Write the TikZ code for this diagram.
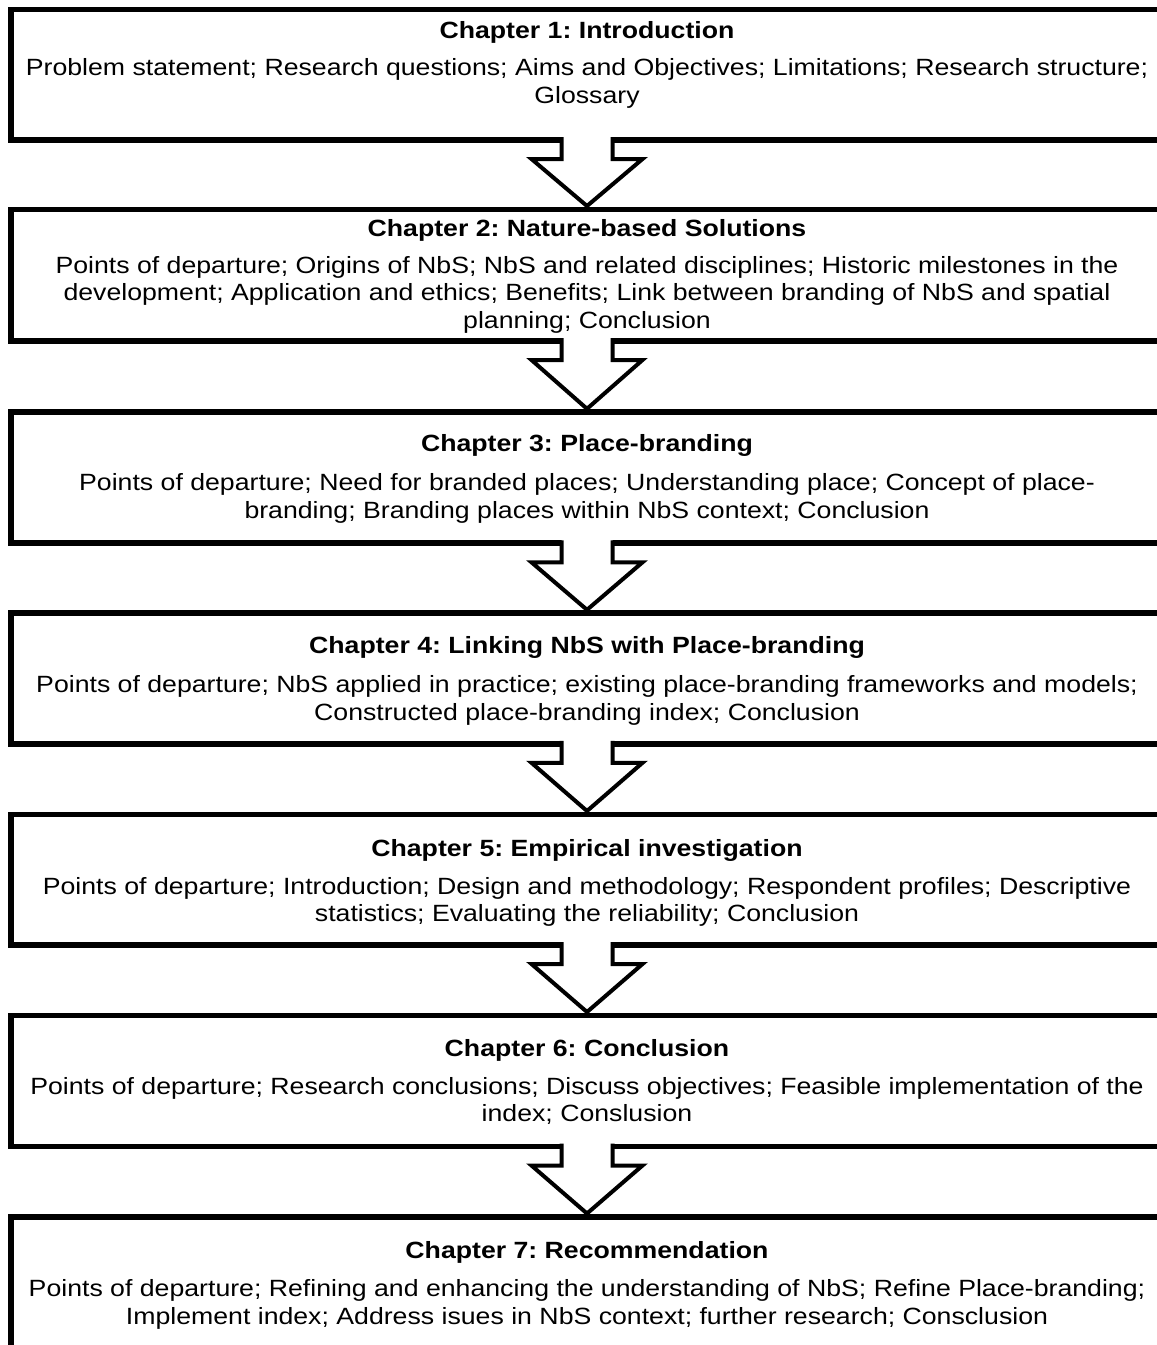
\documentclass[tikz,border=0pt]{standalone}
\usepackage{fontspec}
\setmainfont{Liberation Sans}[FakeStretch=1.135]
\usetikzlibrary{calc}
\begin{document}
\frenchspacing
\begin{tikzpicture}[x=0.5pt,y=-0.5pt,
  chbox/.style={draw=black,line width=2.85pt,rectangle,inner sep=0pt,outer sep=0pt,minimum width=576pt,fill=white},
  chtitle/.style={anchor=base,inner sep=0pt,font=\fontsize{11.75pt}{13.6pt}\selectfont\bfseries\frenchspacing},
  chbody/.style={anchor=base,inner sep=0pt,align=center,font=\fontsize{11.75pt}{13.6pt}\selectfont\frenchspacing},
  arrline/.style={draw=black,line width=2pt,line join=miter}]
\useasboundingbox (0,0) rectangle (1157,1345);
\clip (0,0) rectangle (1157,1345);
\fill[white] (0,0) rectangle (1157,1345);
% boxes
\node[chbox,minimum height=65.25pt] (b1) at (587,74.75) {};
\node[chbox,minimum height=65.75pt] (b2) at (587,275.25) {};
\node[chbox,minimum height=65.5pt]  (b3) at (587,477.8) {};
\node[chbox,minimum height=65.25pt] (b4) at (587,678.55) {};
\node[chbox,minimum height=65.25pt] (b5) at (587,879.75) {};
\node[chbox,minimum height=65.5pt]  (b6) at (587,1081) {};
\node[chbox,minimum height=91.5pt]  (b7) at (587,1308.5) {};
% arrows
\foreach \a/\b in {b1/b2,b2/b3,b3/b4,b4/b5,b5/b6,b6/b7}{
  \fill[white] ($(\a.south)+(-25.5,-4.5)$) -- ($(\a.south)+(-25.5,19)$) -- ($(\a.south)+(-55.5,19)$)
    -- ($(\b.north)+(0,-3.5)$) -- ($(\a.south)+(55.5,19)$) -- ($(\a.south)+(25.5,19)$)
    -- ($(\a.south)+(25.5,-4.5)$) -- cycle;
  \draw[arrline] ($(\a.south)+(-25.5,-2.9)$) -- ($(\a.south)+(-25.5,19)$) -- ($(\a.south)+(-55.5,19)$)
    -- ($(\b.north)+(0,-3.5)$) -- ($(\a.south)+(55.5,19)$) -- ($(\a.south)+(25.5,19)$)
    -- ($(\a.south)+(25.5,-2.9)$);
}
% texts (body nodes anchored on the baseline of their last line)
\node[chtitle] (t1) at (587,38.5) {Chapter 1: Introduction};
\node[chbody] (c1) at (587,103) {Problem statement; Research questions; Aims and Objectives; Limitations; Research structure;\\Glossary};
\node[chtitle] (t2) at (587,236.5) {Chapter 2: Nature-based Solutions};
\node[chbody] (c2) at (587,328) {Points of departure; Origins of NbS; NbS and related disciplines; Historic milestones in the\\development; Application and ethics; Benefits; Link between branding of NbS and spatial\\planning; Conclusion};
\node[chtitle] (t3) at (587,451.7) {Chapter 3: Place-branding};
\node[chbody] (c3) at (587,518) {Points of departure; Need for branded places; Understanding place; Concept of place-\\branding; Branding places within NbS context; Conclusion};
\node[chtitle] (t4) at (587,653.3) {Chapter 4: Linking NbS with Place-branding};
\node[chbody] (c4) at (587,720) {Points of departure; NbS applied in practice; existing place-branding frameworks and models;\\Constructed place-branding index; Conclusion};
\node[chtitle] (t5) at (587,856) {Chapter 5: Empirical investigation};
\node[chbody] (c5) at (587,921.5) {Points of departure; Introduction; Design and methodology; Respondent profiles; Descriptive\\statistics; Evaluating the reliability; Conclusion};
\node[chtitle] (t6) at (587,1056.5) {Chapter 6: Conclusion};
\node[chbody] (c6) at (587,1121.5) {Points of departure; Research conclusions; Discuss objectives; Feasible implementation of the\\index; Conslusion};
\node[chtitle] (t7) at (587,1258) {Chapter 7: Recommendation};
\node[chbody] (c7) at (587,1324) {Points of departure; Refining and enhancing the understanding of NbS; Refine Place-branding;\\Implement index; Address isues in NbS context; further research; Consclusion};
\end{tikzpicture}
\end{document}
